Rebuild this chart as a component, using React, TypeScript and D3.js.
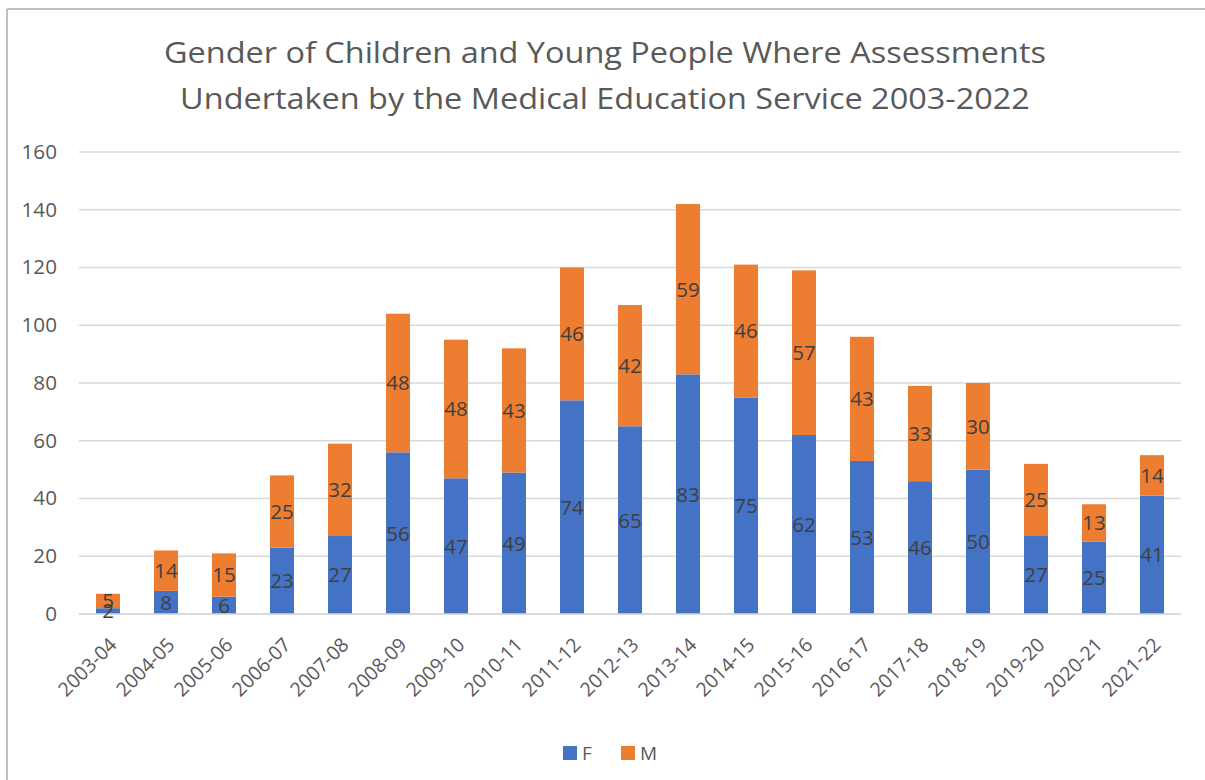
import React from "react";
import * as d3 from "d3";

const years = [
  "2003-04", "2004-05", "2005-06", "2006-07", "2007-08", "2008-09", "2009-10",
  "2010-11", "2011-12", "2012-13", "2013-14", "2014-15", "2015-16", "2016-17",
  "2017-18", "2018-19", "2019-20", "2020-21", "2021-22",
];
const female = [2, 8, 6, 23, 27, 56, 47, 49, 74, 65, 83, 75, 62, 53, 46, 50, 27, 25, 41];
const male = [5, 14, 15, 25, 32, 48, 48, 43, 46, 42, 59, 46, 57, 43, 33, 30, 25, 13, 14];
const yTicks = [0, 20, 40, 60, 80, 100, 120, 140, 160];
const seriesNames = ["F", "M"];
const seriesColors = ["#4472C4", "#ED7D31"];
const titleLines = [
  "Gender of Children and Young People Where Assessments",
  "Undertaken by the Medical Education Service 2003-2022",
];

const W = 1205;
const H = 780;
const FONT = "Open Sans, sans-serif";

export default function App() {
  const x = d3.scaleBand<string>().domain(years).range([79, 1181]).paddingInner(0.586).paddingOuter(0.293);
  const y = d3.scaleLinear().domain([0, 160]).range([614, 152]);

  const rows = years.map((yr, i) => ({ year: yr, F: female[i], M: male[i] }));
  const stacked = d3.stack<any>().keys(seriesNames)(rows);

  return (
    <svg width={W} height={H} style={{ position: "absolute", left: 0, top: 0, background: "#fff" }}>
      <rect x={0} y={0} width={W} height={H} fill="#fff" />
      {/* chart frame */}
      <line x1={7} y1={9} x2={W} y2={9} stroke="#ABABAB" strokeWidth={1.5} />
      <line x1={7} y1={9} x2={7} y2={H} stroke="#ABABAB" strokeWidth={1.5} />

      {/* title */}
      {titleLines.map((t, i) => (
        <text key={i} transform={`translate(605,${63 + i * 46}) scale(1.1,1)`} textAnchor="middle" fontFamily={FONT}
          fontSize={29.5} fill="#595959">{t}</text>
      ))}

      {/* gridlines and y labels */}
      {yTicks.map((t) => (
        <g key={t}>
          <line x1={79} x2={1181} y1={y(t)} y2={y(t)} stroke="#D9D9D9" strokeWidth={1.5} />
          <text transform={`translate(57,${y(t)}) scale(1.06,1)`} dy="0.35em" textAnchor="end" fontFamily={FONT}
            fontSize={19.5} fill="#595959">{t}</text>
        </g>
      ))}

      {/* bars */}
      {stacked.map((s, si) => (
        <g key={s.key}>
          {s.map((d, i) => (
            <rect key={i} x={x(years[i])} width={x.bandwidth()} y={y(d[1])} height={y(d[0]) - y(d[1])}
              fill={seriesColors[si]} />
          ))}
        </g>
      ))}

      {/* axis line */}
      <line x1={79} x2={1181} y1={y(0)} y2={y(0)} stroke="#D9D9D9" strokeWidth={1.5} />

      {/* data labels */}
      {stacked.map((s, si) => (
        <g key={"l" + s.key}>
          {s.map((d, i) => (
            <text key={i} x={(x(years[i]) as number) + x.bandwidth() / 2} y={(y(d[0]) + y(d[1])) / 2}
              dy="0.36em" textAnchor="middle" fontFamily={FONT} fontSize={20.5} fill="#404040">
              {d[1] - d[0]}
            </text>
          ))}
        </g>
      ))}

      {/* x labels */}
      {years.map((yr) => {
        const cx = (x(yr) as number) + x.bandwidth() / 2 + 10;
        const cy = 646;
        return (
          <text key={yr} transform={`translate(${cx},${cy}) rotate(-45)`} textAnchor="end"
            fontFamily={FONT} fontSize={19.5} fill="#595959">{yr}</text>
        );
      })}

      {/* legend */}
      {seriesNames.map((n, i) => (
        <g key={n} transform={`translate(563,746)`}>
          <rect x={i * 58} width={14} height={14} fill={seriesColors[i]} />
          <text x={i * 58 + 19} y={7} dy="0.36em" fontFamily={FONT} fontSize={19} fill="#595959">{n}</text>
        </g>
      ))}
    </svg>
  );
}
